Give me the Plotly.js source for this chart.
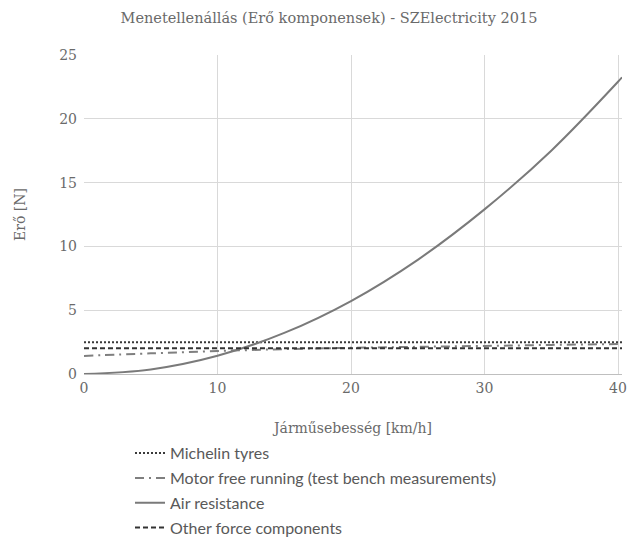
<!DOCTYPE html>
<html>
<head>
<meta charset="utf-8">
<script src="https://cdn.plot.ly/plotly-3.0.1.min.js"></script>
<style>html,body{margin:0;padding:0;background:#fff;}#chart{width:629px;height:556px;}</style>
</head>
<body>
<div id="chart"></div>
<script>
// Speeds [km/h]
const speed = [0, 5, 10, 15, 20, 25, 30, 35, 40, 40.3];
// Forces [N]
const michelin = [2.48, 2.48, 2.48, 2.48, 2.48, 2.48, 2.48, 2.48, 2.48, 2.48];
const motorFree = [1.42, 1.62, 1.8, 1.95, 2.05, 2.13, 2.2, 2.28, 2.35, 2.36];
const airRes = [0, 0.36, 1.43, 3.22, 5.72, 8.95, 12.9, 17.5, 22.9, 23.25];
const otherForces = [2.02, 2.02, 2.02, 2.02, 2.02, 2.02, 2.02, 2.02, 2.02, 2.02];

const names = ["Michelin tyres", "Motor free running (test bench measurements)", "Air resistance", "Other force components"];
const xTicks = [0, 10, 20, 30, 40];
const yTicks = [0, 5, 10, 15, 20, 25];

const traces = [
  {x: speed, y: michelin, name: names[0], legendgroup: "a", mode: "lines", line: {color: "#3a3a3a", width: 2, dash: "2px,2px"}},
  {x: speed, y: motorFree, name: names[1], legendgroup: "b", mode: "lines", line: {color: "#7f7f7f", width: 2, dash: "9px,5px,2px,5px", shape: "spline"}},
  {x: speed, y: airRes, name: names[2], legendgroup: "c", mode: "lines", line: {color: "#7a7a7a", width: 2, shape: "spline"}},
  {x: speed, y: otherForces, name: names[3], legendgroup: "d", mode: "lines", line: {color: "#333333", width: 2, dash: "5px,3px"}}
];

const serif = "DejaVu Serif, serif";
const txt = "#6a6a6a";
const layout = {
  width: 629, height: 556,
  paper_bgcolor: "#ffffff", plot_bgcolor: "#ffffff",
  margin: {l: 84, r: 7, t: 55, b: 182},
  title: {text: "Menetellenállás (Erő komponensek) - SZElectricity 2015", font: {family: serif, size: 14.5, color: txt}, x: 0.523, xanchor: "center", y: 0.968, yanchor: "middle"},
  xaxis: {
    range: [0, 40.3], tickvals: xTicks, ticktext: xTicks.map(String),
    showgrid: true, gridcolor: "#d9d9d9", gridwidth: 1,
    zeroline: false, showline: false, ticks: "", ticklabelstandoff: 4,
    tickfont: {family: serif, size: 14, color: txt},
    title: {text: "Járműsebesség [km/h]", font: {family: serif, size: 14, color: txt}, standoff: 28}
  },
  yaxis: {
    range: [0, 25], tickvals: yTicks, ticktext: yTicks.map(String),
    showgrid: true, gridcolor: "#d9d9d9", gridwidth: 1,
    zeroline: true, zerolinecolor: "#bfbfbf", zerolinewidth: 1,
    showline: false, ticks: "", ticklabelstandoff: 6,
    tickfont: {family: serif, size: 14, color: txt},
    title: {text: "Erő [N]", font: {family: serif, size: 14, color: txt}, standoff: 30}
  },
  showlegend: true,
  legend: {
    orientation: "v", x: 0.0855, xanchor: "left", y: -0.195, yanchor: "top",
    font: {family: "Lato, Open Sans, sans-serif", size: 16, color: "#595959"},
    bgcolor: "rgba(0,0,0,0)", tracegroupgap: 1, itemwidth: 30
  }
};

Plotly.newPlot("chart", traces, layout, {displayModeBar: false, staticPlot: true});
</script>
</body>
</html>
